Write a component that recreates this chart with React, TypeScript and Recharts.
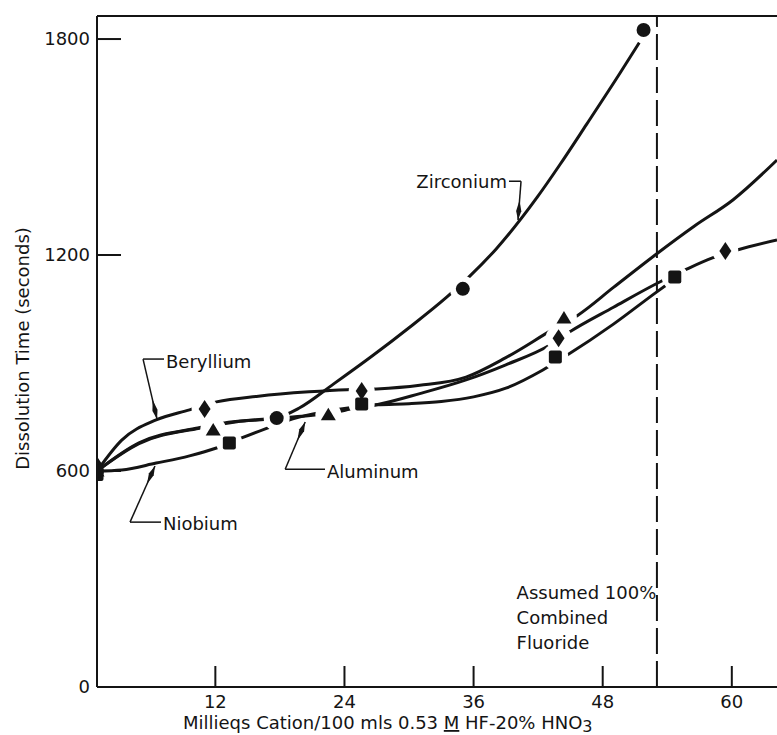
import React from 'react';
import { ComposedChart, Line, XAxis, YAxis, ReferenceLine, ReferenceDot, Label } from 'recharts';

const INK = '#141414';
const FONT = '"DejaVu Sans", "Liberation Sans", sans-serif';

// Axes: milliequivalents of cation on x, dissolution time (s) on y.
const xTicks = [12, 24, 36, 48, 60];
const yTicks = [0, 600, 1200, 1800];
const xDomain: [number, number] = [1, 64.2];
const yDomain: [number, number] = [0, 1864];
const fluorideLimit = 53.04; // assumed 100% combined fluoride

// Fitted curves as drawn in the figure.
const berylliumCurve = [
    { x: 1, y: 600 }, { x: 3.3, y: 686 }, { x: 6.5, y: 742 }, { x: 9.6, y: 770 }, { x: 12.1, y: 792 },
    { x: 16, y: 808 }, { x: 20.7, y: 820 }, { x: 24.2, y: 826 }, { x: 27, y: 828 }, { x: 31, y: 838 },
    { x: 35.3, y: 861 }, { x: 39, y: 915 }, { x: 43.3, y: 992 }, { x: 45.7, y: 1033 }, { x: 49, y: 1110 },
    { x: 53, y: 1203 }, { x: 56.5, y: 1280 }, { x: 60.1, y: 1353 }, { x: 64.2, y: 1464 },
];
const aluminumCurve = [
    { x: 1, y: 600 }, { x: 4.9, y: 678 }, { x: 10.5, y: 720 }, { x: 12.7, y: 733 }, { x: 16.4, y: 744 },
    { x: 20, y: 752 }, { x: 22.4, y: 760 }, { x: 25, y: 774 }, { x: 27, y: 784 }, { x: 31, y: 815 },
    { x: 35.3, y: 853 }, { x: 39, y: 895 }, { x: 43.1, y: 950 }, { x: 44.9, y: 986 }, { x: 49, y: 1055 },
    { x: 53.3, y: 1125 }, { x: 55.6, y: 1158 }, { x: 58.2, y: 1192 }, { x: 60.5, y: 1214 }, { x: 64.2, y: 1242 },
];
const niobiumCurve = [
    { x: 1, y: 600 }, { x: 3.3, y: 603 }, { x: 6.5, y: 622 }, { x: 9.6, y: 642 }, { x: 12.1, y: 664 },
    { x: 14.2, y: 689 }, { x: 16.7, y: 718 }, { x: 19.2, y: 745 }, { x: 22, y: 764 }, { x: 25, y: 778 },
    { x: 27, y: 784 }, { x: 30, y: 787 }, { x: 33, y: 793 }, { x: 36, y: 806 }, { x: 39, y: 830 },
    { x: 42.4, y: 880 }, { x: 44.6, y: 920 }, { x: 49, y: 1008 }, { x: 53, y: 1097 }, { x: 54.3, y: 1125 },
];
const zirconiumCurve = [
    { x: 1, y: 600 }, { x: 4.9, y: 676 }, { x: 10.5, y: 719 }, { x: 14, y: 737 }, { x: 17.7, y: 748 },
    { x: 19.8, y: 775 }, { x: 23, y: 842 }, { x: 26.6, y: 920 }, { x: 30, y: 998 }, { x: 33.5, y: 1083 },
    { x: 35.6, y: 1140 }, { x: 38.1, y: 1217 }, { x: 41.9, y: 1360 }, { x: 44, y: 1450 }, { x: 46.5, y: 1563 },
    { x: 49.6, y: 1705 }, { x: 51.4, y: 1790 },
];

// Measured points (markers).
const berylliumPts = [{ x: 1, y: 615 }, { x: 11, y: 772 }, { x: 25.6, y: 822 }, { x: 43.9, y: 969 }, { x: 59.4, y: 1211 }];
const aluminumPts = [{ x: 1, y: 600 }, { x: 11.8, y: 714 }, { x: 22.5, y: 756 }, { x: 44.4, y: 1025 }];
const niobiumPts = [{ x: 1, y: 590 }, { x: 13.3, y: 678 }, { x: 25.6, y: 786 }, { x: 43.6, y: 917 }, { x: 54.7, y: 1139 }];
const zirconiumPts = [{ x: 1, y: 600 }, { x: 17.7, y: 747 }, { x: 35, y: 1106 }, { x: 51.8, y: 1825 }];

// Curve labels with their leader lines, in data units.
const notes = [
    { text: 'Zirconium', at: { x: 39.1, y: 1405 }, anchor: 'end', leader: [{ x: 39.29, y: 1405 }, { x: 40.41, y: 1405 }, { x: 40.13, y: 1297 }] },
    { text: 'Beryllium', at: { x: 7.41, y: 905 }, anchor: 'start', leader: [{ x: 7.23, y: 911 }, { x: 5.28, y: 911 }, { x: 6.58, y: 744 }] },
    { text: 'Aluminum', at: { x: 22.38, y: 600 }, anchor: 'start', leader: [{ x: 22.19, y: 605 }, { x: 18.49, y: 605 }, { x: 20.35, y: 736 }] },
    { text: 'Niobium', at: { x: 7.13, y: 453 }, anchor: 'start', leader: [{ x: 6.95, y: 458 }, { x: 4.07, y: 458 }, { x: 6.39, y: 614 }] },
];
const fluorideNote = { lines: ['Assumed 100%', 'Combined', 'Fluoride'], at: { x: 40.0, y: 264 } };

const textStyle = { fontFamily: FONT, fontSize: 18, fill: INK };

const XTick = (p: any) => (
    <g>
        <line x1={p.x} x2={p.x} y1={p.y - 8} y2={p.y - 29} stroke={INK} strokeWidth={2} />
        <text x={p.x} y={p.y} dy="0.71em" textAnchor="middle" {...textStyle}>{p.payload.value}</text>
    </g>
);

const YTick = (p: any) => (
    <g>
        <line x1={p.x + 7} x2={p.x + 31} y1={p.y} y2={p.y} stroke={INK} strokeWidth={2} />
        <text x={p.x} y={p.y} dy="0.355em" textAnchor="end" {...textStyle}>{p.payload.value}</text>
    </g>
);

const YTitle = (p: any) => {
    const vb = p.viewBox || { x: 0, y: 16, width: 97, height: 671 };
    const cx = vb.x + 22;
    const cy = vb.y + vb.height / 2 - 3;
    return (
        <text x={cx} y={cy} transform={`rotate(-90 ${cx} ${cy})`} textAnchor="middle" dominantBaseline="central" {...textStyle}>
            Dissolution Time (seconds)
        </text>
    );
};

const XTitle = (p: any) => {
    const vb = p.viewBox || { x: 97, y: 687, width: 680, height: 48 };
    return (
        <text x={vb.x + 86} y={vb.y + 42} textAnchor="start" {...textStyle}>
            Millieqs Cation/100 mls 0.53 <tspan style={{ textDecoration: 'underline' }}>M</tspan> HF-20% HNO<tspan dy={3} fontSize={16}>3</tspan>
        </text>
    );
};

// white gap around each plotted point, as in the original drawing
const HaloDot = (p: any) => <circle key={'h' + p.index} cx={p.cx} cy={p.cy} r={13} fill="#fff" />;
const DiamondMark = (p: any) => (
    <polygon key={'d' + p.index} points={`${p.cx},${p.cy - 9} ${p.cx + 6},${p.cy} ${p.cx},${p.cy + 9} ${p.cx - 6},${p.cy}`} fill={INK} />
);
const TriangleMark = (p: any) => (
    <polygon key={'t' + p.index} points={`${p.cx},${p.cy - 7} ${p.cx + 7.5},${p.cy + 5.5} ${p.cx - 7.5},${p.cy + 5.5}`} fill={INK} />
);
const SquareMark = (p: any) => <rect key={'s' + p.index} x={p.cx - 6.5} y={p.cy - 6.5} width={13} height={13} rx={2} fill={INK} />;
const CircleMark = (p: any) => <circle key={'o' + p.index} cx={p.cx} cy={p.cy} r={7} fill={INK} />;

const plainSeg = (p: any) => <line x1={p.x1} y1={p.y1} x2={p.x2} y2={p.y2} stroke={INK} strokeWidth={1.5} />;
const arrowSeg = (p: any) => {
    const { x1, y1, x2, y2 } = p;
    const len = Math.hypot(x2 - x1, y2 - y1) || 1;
    const ux = (x2 - x1) / len, uy = (y2 - y1) / len;
    const nx = -uy, ny = ux;
    const pts = [
        [x2, y2],
        [x2 - ux * 9 + nx * 2.6, y2 - uy * 9 + ny * 2.6],
        [x2 - ux * 20, y2 - uy * 20],
        [x2 - ux * 9 - nx * 2.6, y2 - uy * 9 - ny * 2.6],
    ].map(q => q.join(',')).join(' ');
    return (
        <g>
            <line x1={x1} y1={y1} x2={x2} y2={y2} stroke={INK} strokeWidth={1.5} />
            <polygon points={pts} fill={INK} />
        </g>
    );
};

const curves = [berylliumCurve, aluminumCurve, niobiumCurve, zirconiumCurve];
const pointSets = [
    { data: berylliumPts, shape: DiamondMark },
    { data: aluminumPts, shape: TriangleMark },
    { data: niobiumPts, shape: SquareMark },
    { data: zirconiumPts, shape: CircleMark },
];
// no gap for the common starting point on the y axis
const haloPts = pointSets.flatMap(s => s.data.filter(d => d.x > xDomain[0]));

export default function App() {
    return (
        <div style={{ position: 'absolute', left: 0, top: 0, background: '#fff' }}>
            <ComposedChart width={777} height={735} margin={{ top: 16, right: 0, bottom: 0, left: 0 }}>
                <XAxis type="number" dataKey="x" domain={xDomain} ticks={xTicks} allowDataOverflow height={48}
                    tickSize={0} tickMargin={8} tickLine={false} tick={XTick} axisLine={{ stroke: INK, strokeWidth: 2 }}>
                    <Label content={XTitle} />
                </XAxis>
                <YAxis type="number" dataKey="y" domain={yDomain} ticks={yTicks} allowDataOverflow width={97}
                    tickSize={0} tickMargin={7} tickLine={false} tick={YTick} axisLine={{ stroke: INK, strokeWidth: 2 }}>
                    <Label content={YTitle} />
                </YAxis>
                <ReferenceLine y={yDomain[1]} stroke={INK} strokeWidth={2} />
                <ReferenceLine x={fluorideLimit} stroke={INK} strokeWidth={2} strokeDasharray="26 7" />
                {curves.map((c, i) => (
                    <Line key={'c' + i} data={c} dataKey="y" type="monotone" stroke={INK} strokeWidth={3}
                        dot={false} activeDot={false} isAnimationActive={false} />
                ))}
                <Line data={haloPts} dataKey="y" type="linear" stroke="none" dot={HaloDot} activeDot={false} isAnimationActive={false} />
                {pointSets.map((s, i) => (
                    <Line key={'m' + i} data={s.data} dataKey="y" type="linear" stroke="none" dot={s.shape}
                        activeDot={false} isAnimationActive={false} />
                ))}
                {notes.map((n, i) => (
                    <React.Fragment key={'n' + i}>
                        <ReferenceLine segment={[n.leader[0], n.leader[1]]} shape={plainSeg} />
                        <ReferenceLine segment={[n.leader[1], n.leader[2]]} shape={arrowSeg} />
                        <ReferenceDot x={n.at.x} y={n.at.y} r={0} shape={(p: any) => (
                            <text x={p.cx} y={p.cy} textAnchor={n.anchor} dominantBaseline="central" {...textStyle}>{n.text}</text>
                        )} />
                    </React.Fragment>
                ))}
                <ReferenceDot x={fluorideNote.at.x} y={fluorideNote.at.y} r={0} shape={(p: any) => (
                    <text x={p.cx} y={p.cy} dominantBaseline="central" {...textStyle}>
                        {fluorideNote.lines.map((l, i) => (
                            <tspan key={l} x={p.cx} dy={i === 0 ? 0 : 25}>{l}</tspan>
                        ))}
                    </text>
                )} />
            </ComposedChart>
        </div>
    );
}
